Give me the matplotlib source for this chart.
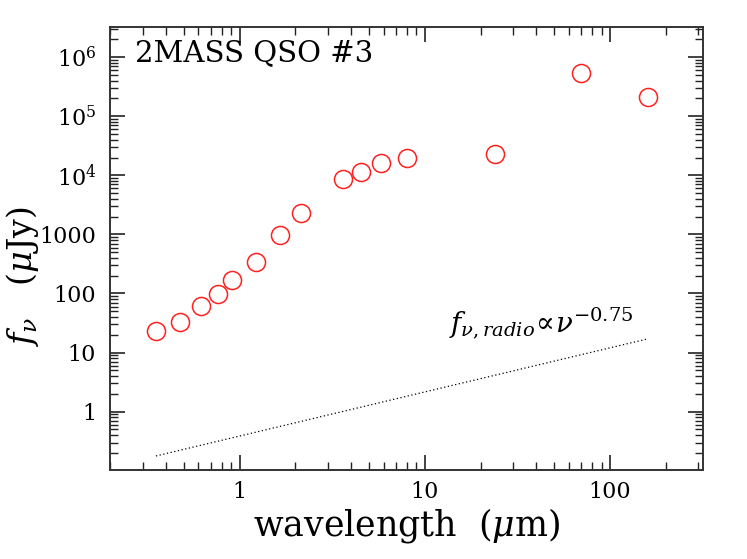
import matplotlib
matplotlib.use("Agg")
import matplotlib.pyplot as plt
from matplotlib.ticker import FixedLocator, LogLocator, NullFormatter

plt.rcParams["font.family"] = "DejaVu Serif"
plt.rcParams["mathtext.fontset"] = "dejavuserif"

# SED points: SDSS ugriz, 2MASS JHK, IRAC, MIPS
longitud = [0.354, 0.477, 0.623, 0.762, 0.913, 1.235, 1.662, 2.159,
            3.6, 4.5, 5.8, 8.0, 24.0, 70.0, 160.0]
flujo = [23.0, 32.5, 61.0, 97.0, 168.0, 335.0, 980.0, 2280.0,
         8700.0, 11200.0, 16000.0, 19800.0, 23300.0, 5.3e5, 2.15e5]

# radio power law endpoints
radio_x = [0.354, 160.0]
radio_y = [0.178, 17.1]

ytick_vals = [1, 10, 100, 1000, 1e4, 1e5, 1e6]
ytick_txt = ["1", "10", "100", "1000", "$10^4$", "$10^5$", "$10^6$"]
xtick_vals = [1, 10, 100]
xtick_txt = ["1", "10", "100"]

fig = plt.figure(figsize=(7.47, 5.59), dpi=100)
ax = fig.add_axes([110/747, 1 - 470/559, (702.7 - 110)/747, (470 - 27)/559])

ax.plot(longitud, flujo, "o", mfc="none", mec="#ff2020", ms=13, mew=1.1)
ax.plot(radio_x, radio_y, color="black", ls=(0, (1, 2)), lw=0.9)

ax.set_xscale("log")
ax.set_yscale("log")
ax.set_xlim(0.2, 10**2.5)
ax.set_ylim(0.103, 10**6.51)

ax.xaxis.set_major_locator(FixedLocator(xtick_vals))
ax.set_xticklabels(xtick_txt)
ax.yaxis.set_major_locator(FixedLocator(ytick_vals))
ax.set_yticklabels(ytick_txt)
ax.xaxis.set_minor_locator(LogLocator(base=10, subs=range(2, 10), numticks=20))
ax.yaxis.set_minor_locator(LogLocator(base=10, subs=range(2, 10), numticks=20))
ax.xaxis.set_minor_formatter(NullFormatter())
ax.yaxis.set_minor_formatter(NullFormatter())

ax.tick_params(which="both", direction="in", top=True, right=True, color="#222222")
ax.tick_params(which="major", length=11, width=1.2, labelsize=16, pad=10)
ax.tick_params(axis="x", which="major", pad=8)
ax.tick_params(which="minor", length=6, width=1.0)
for s in ax.spines.values():
    s.set_linewidth(1.4)
    s.set_color("#333333")

ax.set_xlabel(r"wavelength  ($\mu$m)", fontsize=25, labelpad=2)
ax.set_ylabel(r"$f_\nu$   ($\mu$Jy)", fontsize=24, va="center")
ax.yaxis.set_label_coords(-0.148, 0.436)

ax.text(0.042, 0.972, "2MASS QSO #3", transform=ax.transAxes, fontsize=21,
        ha="left", va="top")
ax.text(13.5, 21.6, r"$f_{\nu,radio}\!\propto\!\nu^{-0.75}$",
        fontsize=20, ha="left", va="baseline")
plt.savefig("out.png", dpi=100)
